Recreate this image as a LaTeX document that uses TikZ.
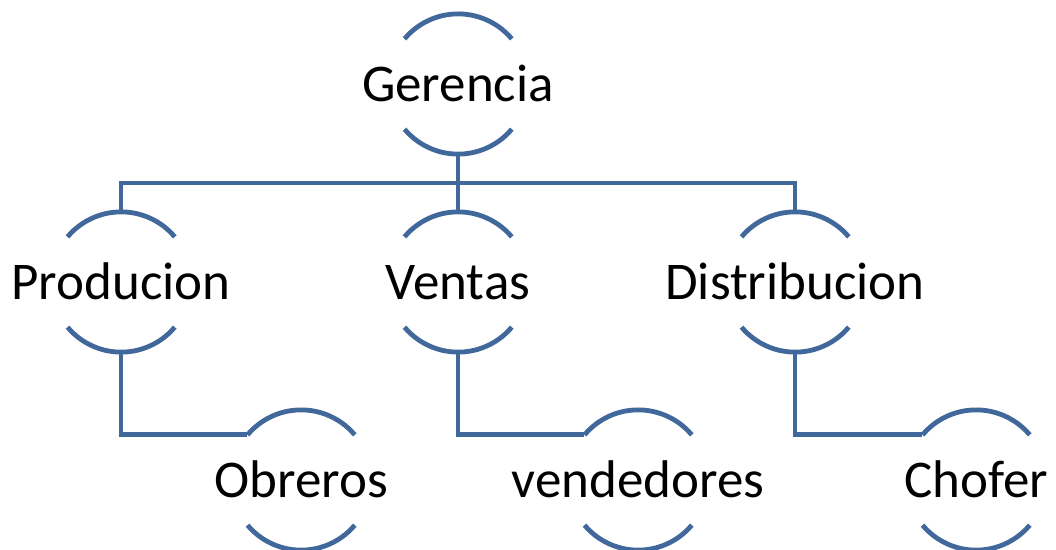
\documentclass[tikz,border=0pt]{standalone}
\usepackage{fontspec}
\setmainfont{Carlito}
\definecolor{linecol}{HTML}{41689A}

\begin{document}
\begin{tikzpicture}[
    x=1pt, y=1pt,
    ring/.style={circle, minimum size=140pt, inner sep=0pt, draw=none,
      label={[txt]center:#1}},
    txt/.style={inner sep=0pt, text height=34pt, text depth=0pt, font=\fontsize{53}{60}\selectfont},
    conn/.style={draw=linecol, line width=4.8pt}
]
\useasboundingbox (0,0) rectangle (1056,-549);

\node[ring=Gerencia] (ger) at (458,-84) {};
\node[ring=Producion] (pro) at (121,-282) {};
\node[ring=Ventas] (ven) at (458,-282) {};
\node[ring=Distribucion] (dis) at (795,-282) {};
\node[ring=Obreros] (obr) at (301,-480) {};
\node[ring=vendedores] (vnd) at (638,-480) {};
\node[ring=Chofer] (cho) at (976,-480) {};

% open circles: top and bottom arcs only
\foreach \n in {ger,pro,ven,dis,obr,vnd,cho} {
  \draw[conn] (\n.40) arc[start angle=40, end angle=140, radius=70pt];
  \draw[conn] (\n.-40) arc[start angle=-40, end angle=-140, radius=70pt];
}

\coordinate (bus) at (458,-183);
\draw[conn] (ger.south) -- (ven.north);
\draw[conn] (pro.north) |- (bus) -| (dis.north);

\draw[conn] (pro.south) |- (obr.140);
\draw[conn] (ven.south) |- (vnd.140);
\draw[conn] (dis.south) |- (cho.140);

\end{tikzpicture}
\end{document}
